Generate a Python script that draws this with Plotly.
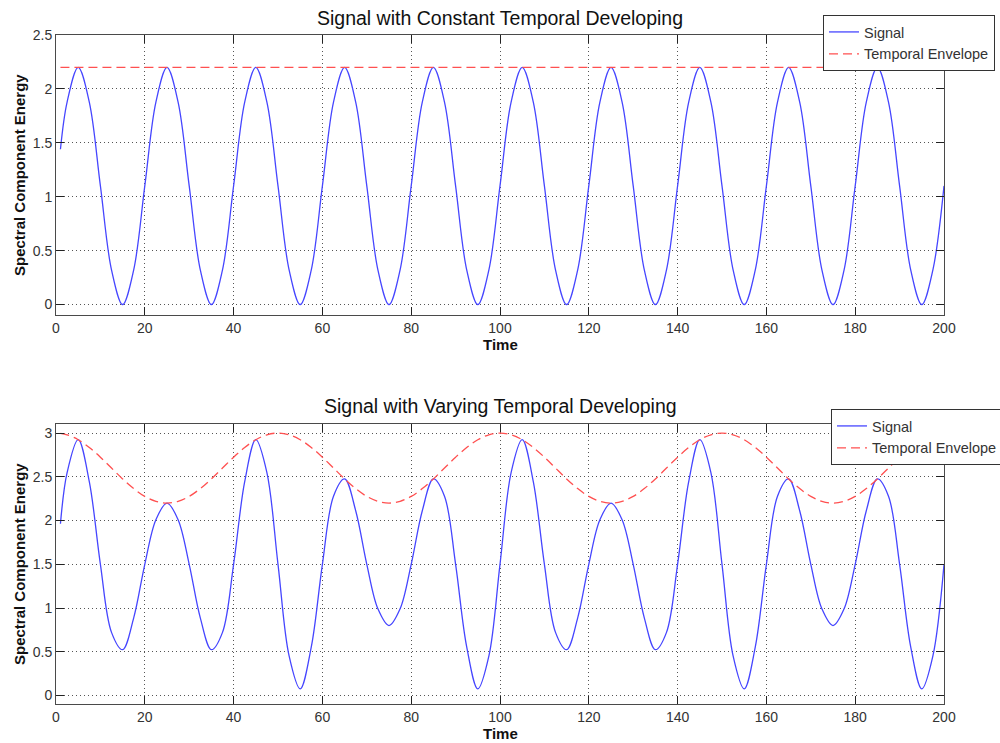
import plotly.graph_objects as go

# ---------------- data ----------------
time = [1, 2.5, 5, 7.5, 10, 12.5, 15, 17.5, 20, 22.5, 25, 27.5, 30, 32.5, 35, 37.5,
        40, 42.5, 45, 47.5, 50, 52.5, 55, 57.5, 60, 62.5, 65, 67.5, 70, 72.5, 75, 77.5,
        80, 82.5, 85, 87.5, 90, 92.5, 95, 97.5, 100, 102.5, 105, 107.5, 110, 112.5, 115, 117.5,
        120, 122.5, 125, 127.5, 130, 132.5, 135, 137.5, 140, 142.5, 145, 147.5, 150, 152.5, 155, 157.5,
        160, 162.5, 165, 167.5, 170, 172.5, 175, 177.5, 180, 182.5, 185, 187.5, 190, 192.5, 195, 197.5,
        200]

signal_const = [1.44,
                1.878, 2.2, 1.878, 1.1, 0.322, 0, 0.322, 1.1,
                1.878, 2.2, 1.878, 1.1, 0.322, 0, 0.322, 1.1,
                1.878, 2.2, 1.878, 1.1, 0.322, 0, 0.322, 1.1,
                1.878, 2.2, 1.878, 1.1, 0.322, 0, 0.322, 1.1,
                1.878, 2.2, 1.878, 1.1, 0.322, 0, 0.322, 1.1,
                1.878, 2.2, 1.878, 1.1, 0.322, 0, 0.322, 1.1,
                1.878, 2.2, 1.878, 1.1, 0.322, 0, 0.322, 1.1,
                1.878, 2.2, 1.878, 1.1, 0.322, 0, 0.322, 1.1,
                1.878, 2.2, 1.878, 1.1, 0.322, 0, 0.322, 1.1,
                1.878, 2.2, 1.878, 1.1, 0.322, 0, 0.322, 1.1]

env_const_time = [1, 200]
env_const = [2.2, 2.2]

signal_vary = [1.963,
               2.547, 2.924, 2.444, 1.5, 0.722, 0.524, 0.888, 1.5,
               2.009, 2.2, 2.009, 1.5, 0.888, 0.524, 0.722, 1.5,
               2.444, 2.924, 2.547, 1.5, 0.453, 0.076, 0.556, 1.5,
               2.278, 2.476, 2.112, 1.5, 0.991, 0.8, 0.991, 1.5,
               2.112, 2.476, 2.278, 1.5, 0.556, 0.076, 0.453, 1.5,
               2.547, 2.924, 2.444, 1.5, 0.722, 0.524, 0.888, 1.5,
               2.009, 2.2, 2.009, 1.5, 0.888, 0.524, 0.722, 1.5,
               2.444, 2.924, 2.547, 1.5, 0.453, 0.076, 0.556, 1.5,
               2.278, 2.476, 2.112, 1.5, 0.991, 0.8, 0.991, 1.5,
               2.112, 2.476, 2.278, 1.5, 0.556, 0.076, 0.453, 1.5]

env_vary = [2.997,
            2.980, 2.924, 2.835, 2.724, 2.6, 2.476, 2.365, 2.276, 2.220, 2.2,
            2.220, 2.276, 2.365, 2.476, 2.6, 2.724, 2.835, 2.924, 2.980, 3.0,
            2.980, 2.924, 2.835, 2.724, 2.6, 2.476, 2.365, 2.276, 2.220, 2.2,
            2.220, 2.276, 2.365, 2.476, 2.6, 2.724, 2.835, 2.924, 2.980, 3.0,
            2.980, 2.924, 2.835, 2.724, 2.6, 2.476, 2.365, 2.276, 2.220, 2.2,
            2.220, 2.276, 2.365, 2.476, 2.6, 2.724, 2.835, 2.924, 2.980, 3.0,
            2.980, 2.924, 2.835, 2.724, 2.6, 2.476, 2.365, 2.276, 2.220, 2.2,
            2.220, 2.276, 2.365, 2.476, 2.6, 2.724, 2.835, 2.924, 2.980, 3.0]

x_ticks = [0, 20, 40, 60, 80, 100, 120, 140, 160, 180, 200]
y_ticks_top = [0, 0.5, 1, 1.5, 2, 2.5]
y_ticks_bottom = [0, 0.5, 1, 1.5, 2, 2.5, 3]

titles = ["Signal with Constant Temporal Developing", "Signal with Varying Temporal Developing"]
x_label = "Time"
y_label = "Spectral Component Energy"

# ---------------- styling ----------------
FONT = "Liberation Sans, Arial, Helvetica, sans-serif"
BLUE = "rgb(70,70,255)"
RED = "rgb(255,80,80)"
AXC = "#4a4a4a"
W, H = 1000, 743

fig = go.Figure()
fig.add_trace(go.Scatter(x=time, y=signal_const, mode="lines", name="Signal",
                         line=dict(color=BLUE, width=1.3, shape="spline"),
                         xaxis="x", yaxis="y", legend="legend"))
fig.add_trace(go.Scatter(x=env_const_time, y=env_const, mode="lines", name="Temporal Envelope",
                         line=dict(color=RED, width=1.3, dash="9px,5px"),
                         xaxis="x", yaxis="y", legend="legend"))
fig.add_trace(go.Scatter(x=time, y=signal_vary, mode="lines", name="Signal",
                         line=dict(color=BLUE, width=1.3, shape="spline"),
                         xaxis="x2", yaxis="y2", legend="legend2"))
fig.add_trace(go.Scatter(x=time, y=env_vary, mode="lines", name="Temporal Envelope",
                         line=dict(color=RED, width=1.3, dash="9px,5px", shape="spline"),
                         xaxis="x2", yaxis="y2", legend="legend2"))


def common_axis():
    return dict(showline=True, mirror="ticks", linecolor=AXC, linewidth=1,
                ticks="inside", ticklen=8, tickcolor="#222", tickwidth=1,
                showgrid=True, gridcolor="#555", griddash="1px,3px", gridwidth=1,
                zeroline=False, tickfont=dict(family=FONT, size=14, color="#333"),
                fixedrange=True, automargin=False)


def xax(anchor):
    d = common_axis()
    d.update(domain=[0, 1], range=[0, 200], anchor=anchor, tickvals=x_ticks)
    return d


def yax(anchor, dom, rng, tv):
    d = common_axis()
    d.update(domain=dom, range=rng, anchor=anchor, tickvals=tv)
    return d


top_dom = [1 - 315.3 / H, 1 - 35 / H]
bot_dom = [1 - 704.3 / H, 1 - 424.3 / H]

legend_common = dict(bgcolor="white", bordercolor="#333", borderwidth=1,
                     font=dict(family=FONT, size=14.5, color="#333"),
                     xanchor="left", yanchor="top", tracegroupgap=0)

fig.update_layout(
    width=W, height=H,
    margin=dict(l=56, r=56, t=0, b=0, autoexpand=False),
    paper_bgcolor="white", plot_bgcolor="white",
    font=dict(family=FONT, size=14, color="#222"),
    xaxis=xax("y"), yaxis=yax("x", top_dom, [-0.1, 2.5], y_ticks_top),
    xaxis2=xax("y2"), yaxis2=yax("x2", bot_dom, [-0.1, 3.1], y_ticks_bottom),
    legend=dict(x=(823 - 56) / 888, y=1 - 15 / H, **legend_common),
    legend2=dict(x=(831 - 56) / 888, y=1 - 409 / H, **legend_common),
    showlegend=True,
)

ann = []
for title, yc, ylab_c, xlab_c in [(titles[0], 18, 175, 344), (titles[1], 406, 564, 733)]:
    ann.append(dict(text=title, x=0.5, y=1 - yc / H, xref="paper", yref="paper",
                    xanchor="center", yanchor="middle", showarrow=False,
                    font=dict(family=FONT, size=19.5, color="#111")))
    ann.append(dict(text="<b>" + x_label + "</b>", x=0.5, y=1 - xlab_c / H, xref="paper", yref="paper",
                    xanchor="center", yanchor="middle", showarrow=False,
                    font=dict(family=FONT, size=15, color="#111")))
    ann.append(dict(text="<b>" + y_label + "</b>", x=(19 - 56) / 888, y=1 - ylab_c / H,
                    xref="paper", yref="paper", textangle=-90,
                    xanchor="center", yanchor="middle", showarrow=False,
                    font=dict(family=FONT, size=15, color="#111")))
fig.update_layout(annotations=ann)

fig.write_html("out.html")
